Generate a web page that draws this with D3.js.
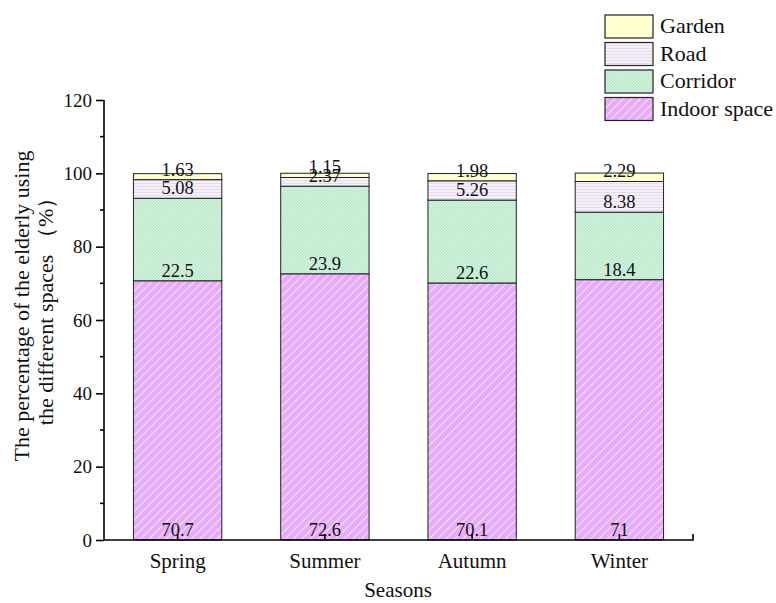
<!DOCTYPE html>
<html>
<head>
<meta charset="utf-8">
<script src="https://cdn.jsdelivr.net/npm/d3@7"></script>
<style>
  html, body { margin: 0; padding: 0; background: #fff; }
  svg { display: block; }
  svg text { font-family: "Liberation Serif", "DejaVu Serif", serif; }
</style>
</head>
<body>
<svg id="chart" width="776" height="603"></svg>
<script>
// Seasons and share of elderly users per space type (%)
const seasons = ["Spring", "Summer", "Autumn", "Winter"];
const spaces = ["Indoor space", "Corridor", "Road", "Garden"];
const indoor = [70.7, 72.6, 70.1, 71];
const corridor = [22.5, 23.9, 22.6, 18.4];
const road = [5.08, 2.37, 5.26, 8.38];
const garden = [1.63, 1.15, 1.98, 2.29];
const yTicks = [0, 20, 40, 60, 80, 100, 120];

const FONT = "Liberation Serif, DejaVu Serif, serif";
const svg = d3.select("#chart");
const defs = svg.append("defs");

// Fill patterns for each space type
const pInd = defs.append("pattern").attr("id", "pat-indoor")
  .attr("patternUnits", "userSpaceOnUse").attr("width", 6).attr("height", 6)
  .attr("patternTransform", "rotate(45)");
pInd.append("rect").attr("width", 6).attr("height", 6).attr("fill", "#e6acf8");
pInd.append("line").attr("x1", 0).attr("y1", 0).attr("x2", 0).attr("y2", 6)
  .attr("stroke", "#fbeefd").attr("stroke-width", 1.6);

const pCor = defs.append("pattern").attr("id", "pat-corridor")
  .attr("patternUnits", "userSpaceOnUse").attr("width", 3).attr("height", 3);
pCor.append("rect").attr("width", 3).attr("height", 3).attr("fill", "#dcf5e4");
pCor.append("rect").attr("x", 0).attr("y", 0).attr("width", 1.5).attr("height", 1.5).attr("fill", "#b2e6c4");
pCor.append("rect").attr("x", 1.5).attr("y", 1.5).attr("width", 1.5).attr("height", 1.5).attr("fill", "#b2e6c4");

const pRoad = defs.append("pattern").attr("id", "pat-road")
  .attr("patternUnits", "userSpaceOnUse").attr("width", 4).attr("height", 3);
pRoad.append("rect").attr("width", 4).attr("height", 3).attr("fill", "#f6f0f9");
pRoad.append("rect").attr("y", 0).attr("width", 4).attr("height", 1).attr("fill", "#e6dcee");

const fills = {
  "Indoor space": "url(#pat-indoor)",
  "Corridor": "url(#pat-corridor)",
  "Road": "url(#pat-road)",
  "Garden": "#ffffd2"
};

const rows = seasons.map((s, i) => ({
  season: s,
  "Indoor space": indoor[i],
  "Corridor": corridor[i],
  "Road": road[i],
  "Garden": garden[i]
}));

const x = d3.scaleBand().domain(seasons).range([104, 693]).paddingInner(0.4).paddingOuter(0.2);
const y = d3.scaleLinear().domain([0, 120]).range([540, 100]);

const stacked = d3.stack().keys(spaces)(rows);

// Bars
const layers = svg.append("g").selectAll("g").data(stacked).join("g")
  .attr("fill", d => fills[d.key]);
layers.selectAll("rect").data(d => d).join("rect")
  .attr("x", d => x(d.data.season))
  .attr("width", x.bandwidth())
  .attr("y", d => y(d[1]))
  .attr("height", d => y(d[0]) - y(d[1]))
  .attr("stroke", "#222")
  .attr("stroke-width", 1);

// Value labels sit just above the bottom of each segment
const labels = svg.append("g").attr("font-size", 18.5).attr("font-family", FONT)
  .attr("fill", "#111").attr("text-anchor", "middle");
stacked.forEach(layer => {
  layer.forEach(d => {
    const v = d.data[layer.key];
    labels.append("text")
      .attr("x", x(d.data.season) + x.bandwidth() / 2)
      .attr("y", y(d[0]) - 4)
      .text(v);
  });
});

// Y axis
const yAxis = d3.axisLeft(y).tickValues(yTicks).tickSize(8).tickPadding(4);
const gy = svg.append("g").attr("transform", "translate(104,0)").call(yAxis);
gy.attr("font-family", FONT);
gy.select(".domain").attr("stroke", "#000").attr("stroke-width", 1.6).attr("d", "M0,540V100");
gy.selectAll(".tick line").attr("stroke", "#000").attr("stroke-width", 1.6);
gy.selectAll(".tick text").attr("font-size", 19).attr("fill", "#111");
// minor ticks
gy.selectAll(".minor").data(d3.range(10, 120, 20)).join("line")
  .attr("class", "minor")
  .attr("x1", -4).attr("x2", 0)
  .attr("y1", d => y(d)).attr("y2", d => y(d))
  .attr("stroke", "#000").attr("stroke-width", 1.6);

// X axis
const xAxis = d3.axisBottom(x).tickSize(-6).tickPadding(13);
const gx = svg.append("g").attr("transform", "translate(0,540)").call(xAxis);
gx.attr("font-family", FONT);
gx.select(".domain").attr("stroke", "#000").attr("stroke-width", 1.6).attr("d", "M104,0H693V-6");
gx.selectAll(".tick line").attr("stroke", "#000").attr("stroke-width", 1.6);
gx.selectAll(".tick text").attr("font-size", 21).attr("fill", "#111");

// Axis titles
svg.append("text").attr("x", 398).attr("y", 597).attr("text-anchor", "middle")
  .attr("font-family", FONT).attr("font-size", 21).attr("fill", "#111").text("Seasons");

const yTitle = svg.append("text").attr("transform", "translate(0,306) rotate(-90)")
  .attr("text-anchor", "middle").attr("font-family", FONT).attr("font-size", 22).attr("fill", "#111");
yTitle.append("tspan").attr("x", 0).attr("y", 29).text("The percentage of the elderly using");
yTitle.append("tspan").attr("x", 0).attr("y", 53).text("the different spaces （%）");

// Legend
const legendOrder = ["Garden", "Road", "Corridor", "Indoor space"];
const lg = svg.append("g");
legendOrder.forEach((k, i) => {
  const yy = 15 + i * 27.5;
  lg.append("rect").attr("x", 605).attr("y", yy).attr("width", 48).attr("height", 23)
    .attr("fill", fills[k]).attr("stroke", "#222").attr("stroke-width", 1.2);
  lg.append("text").attr("x", 660).attr("y", yy + 18).attr("font-family", FONT)
    .attr("font-size", 22).attr("fill", "#111").text(k);
});
</script>
</body>
</html>
